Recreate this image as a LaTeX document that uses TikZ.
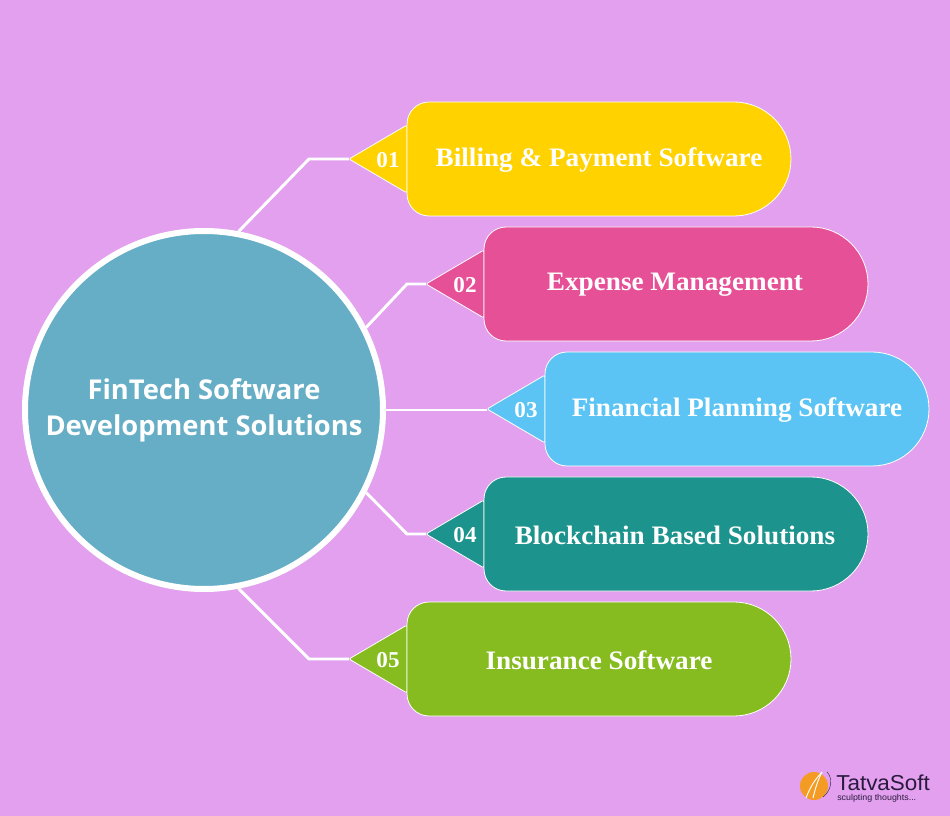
\documentclass[tikz,border=0pt]{standalone}
\usepackage{fontspec}
\setmainfont{Liberation Serif}
\newfontfamily\titlefont{Open Sans}
\newfontfamily\logofont[FakeStretch=1.04]{Liberation Sans}
\newfontfamily\itemfont[FakeStretch=1.02]{Liberation Serif Bold}
\definecolor{bgc}{HTML}{E2A0EE}
\definecolor{hubc}{HTML}{66ADC6}
\definecolor{cyellow}{HTML}{FFD200}
\definecolor{cpink}{HTML}{E55097}
\definecolor{cblue}{HTML}{5CC4F5}
\definecolor{cteal}{HTML}{1C938C}
\definecolor{cgreen}{HTML}{86BC1F}
\definecolor{clogo}{HTML}{F49B24}
\definecolor{clogotext}{HTML}{2A1A3E}
\tikzset{
  x=0.75pt,y=-0.75pt,
  pillshape/.style={draw=white,line width=0.6pt,line join=round},
  itemlabel/.style={text=white,font=\itemfont\fontsize{20}{24}\selectfont,inner sep=0pt},
  numlabel/.style={text=white,font=\itemfont\fontsize{17}{20}\selectfont,inner sep=0pt},
  hubnode/.style={circle,draw=white,fill=hubc,line width=4.5pt,minimum size=268.5pt,inner sep=0pt,align=center,text=white,font=\titlefont\bfseries\fontsize{20.5}{27}\selectfont},
  link/.style={draw=white,line width=2.2pt,line join=miter},
}
% #1 name, #2 left x, #3 centre y, #4 colour, #5 number, #6 text centre x, #7 text
\newcommand{\pillitem}[7]{%
  \path[pillshape,fill=#4,rounded corners=1.5pt]
    (#2-58,#3) -- (#2,#3-34) -- (#2,#3+34) -- cycle;
  \path[pillshape,fill=#4]
    (#2+22,#3-57) -- (#2+327,#3-57)
    arc[start angle=90,end angle=-90,radius=42.75pt]
    -- (#2+22,#3+57)
    arc[start angle=270,end angle=180,radius=16.5pt]
    -- (#2,#3-35)
    arc[start angle=180,end angle=90,radius=16.5pt] -- cycle;
  \coordinate (tip#1) at (#2-58,#3);
  \node[numlabel] (num#1) at (#2-19,#3+1) {#5};
  \node[itemlabel] (lab#1) at (#6,#3+1) {#7};
}
\begin{document}
\begin{tikzpicture}
\useasboundingbox (0,0) rectangle (950,816);
\fill[bgc] (0,0) rectangle (950,816);
\coordinate (elbA) at (309,159);
\coordinate (elbB) at (407,284);
\coordinate (elbD) at (407,534);
\coordinate (elbE) at (309,659);
\node[hubnode] (hub) at (204,410) {FinTech Software\\Development Solutions};
\pillitem{A}{407}{159}{cyellow}{01}{599}{Billing \& Payment Software}
\pillitem{B}{484}{284}{cpink}{02}{675}{Expense Management}
\pillitem{C}{545}{409}{cblue}{03}{737}{Financial Planning Software}
\pillitem{D}{484}{534}{cteal}{04}{675}{Blockchain Based Solutions}
\pillitem{E}{407}{659}{cgreen}{05}{599}{Insurance Software}
\draw[link] (hub.79.5) -- (elbA) -- (tipA);
\draw[link] (hub.27.1) -- (elbB) -- (tipB);
\draw[link] (hub.east) -- (tipC |- hub.east);
\draw[link] (hub.-27.1) -- (elbD) -- (tipD);
\draw[link] (hub.-79.5) -- (elbE) -- (tipE);
% logo
\fill[clogo] (814,786) circle[radius=10.5pt];
\draw[white,line width=0.7pt] (806,798) .. controls (811,785) and (815,780) .. (822,772);
\draw[white,line width=0.7pt] (813,798) .. controls (815,790) and (817,782) .. (822,772);
\draw[clogotext,line width=0.3pt] (827,772) .. controls (833,778) and (832,790) .. (823,797);
\node[inner sep=0pt,anchor=west,font=\logofont\fontsize{16.2}{18}\selectfont,text=clogotext] (logoname) at (836,783) {TatvaSoft};
\node[inner sep=0pt,anchor=west,font=\logofont\fontsize{6.4}{8}\selectfont,text=clogotext] (logotag) at (837,798) {sculpting thoughts...};
\end{tikzpicture}
\end{document}
